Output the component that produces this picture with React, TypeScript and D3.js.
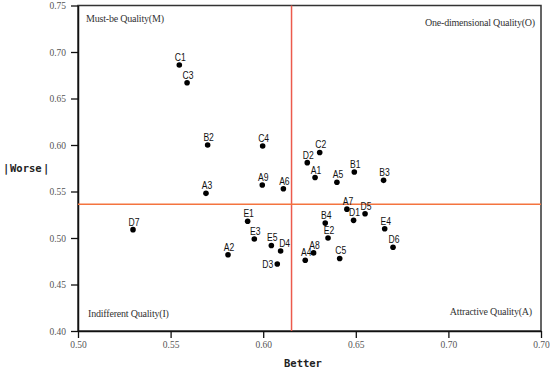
import React, { useRef, useEffect } from 'react';
import * as d3 from 'd3';

const items = ['C1', 'C3', 'B2', 'C4', 'A9', 'A6', 'A3', 'A1', 'A5', 'C2', 'D2', 'B1', 'B3',
  'E1', 'E3', 'E5', 'D4', 'A2', 'D3', 'B4', 'E2', 'A8', 'A4', 'C5', 'A7', 'D1', 'D5', 'E4', 'D6', 'D7'];
const better = [0.5547, 0.5589, 0.570, 0.5997, 0.5995, 0.6109, 0.5691, 0.628, 0.6398, 0.6305, 0.6238, 0.6492, 0.665,
  0.5916, 0.5952, 0.6044, 0.6094, 0.581, 0.6076, 0.6335, 0.635, 0.6272, 0.6227, 0.6413, 0.6452, 0.6488, 0.655, 0.6656, 0.6701, 0.5297];
const worse = [0.686, 0.667, 0.600, 0.599, 0.557, 0.553, 0.548, 0.565, 0.560, 0.592, 0.581, 0.571, 0.562,
  0.518, 0.499, 0.492, 0.486, 0.482, 0.472, 0.516, 0.500, 0.484, 0.476, 0.478, 0.531, 0.519, 0.526, 0.510, 0.490, 0.509];

const xTicks = [0.5, 0.55, 0.6, 0.65, 0.7, 0.75];
const xTickLabels = ['0.50', '0.55', '0.60', '0.65', '0.70', '0.70'];
const yTicks = [0.4, 0.45, 0.5, 0.55, 0.6, 0.65, 0.7, 0.75];
const yTickLabels = ['0.40', '0.45', '0.50', '0.55', '0.60', '0.65', '0.70', '0.75'];

const betterMean = 0.6153;
const worseMean = 0.5362;

const quadrants = ['Must-be Quality(M)', 'One-dimensional Quality(O)', 'Indifferent Quality(I)', 'Attractive Quality(A)'];

const W = 550;
const H = 372;

export default function App() {
  const svgRef = useRef<SVGSVGElement>(null);

  useEffect(() => {
    const svg = d3.select(svgRef.current);
    svg.selectAll('*').remove();

    const left = 78, right = 541, top = 5.5, bottom = 331;
    const x = d3.scaleLinear().domain([0.5, 0.75]).range([left, right]);
    const y = d3.scaleLinear().domain([0.4, 0.75]).range([bottom, top]);

    const serif = '"Liberation Serif", "DejaVu Serif", serif';
    const sans = '"Liberation Sans", Arial, sans-serif';
    const mono = '"DejaVu Sans Mono", "Liberation Mono", monospace';

    svg.append('rect').attr('width', W).attr('height', H).attr('fill', 'white');

    // frame (top and right)
    svg.append('rect')
      .attr('x', left).attr('y', top)
      .attr('width', right - left).attr('height', bottom - top)
      .attr('fill', 'none').attr('stroke', '#333').attr('stroke-width', 1.5);

    // axes
    const xAxis = svg.append('g')
      .attr('transform', `translate(0,${bottom})`)
      .call(d3.axisBottom(x).tickValues(xTicks).tickSize(7).tickSizeOuter(0)
        .tickFormat((d, i) => xTickLabels[i]));
    const yAxis = svg.append('g')
      .attr('transform', `translate(${left},0)`)
      .call(d3.axisLeft(y).tickValues(yTicks).tickSize(7).tickSizeOuter(0)
        .tickFormat((d, i) => yTickLabels[i]));

    [xAxis, yAxis].forEach(ax => {
      ax.select('.domain').attr('stroke', '#111').attr('stroke-width', 1.5);
      ax.selectAll('.tick line').attr('stroke', '#111').attr('stroke-width', 1.3);
      ax.selectAll('.tick text')
        .attr('font-family', serif)
        .attr('font-size', 9.5)
        .attr('fill', '#555');
    });
    xAxis.selectAll('.tick text').attr('y', 10);
    yAxis.selectAll('.tick text').attr('x', -12);

    // mean lines
    svg.append('line')
      .attr('x1', x(betterMean)).attr('x2', x(betterMean))
      .attr('y1', top).attr('y2', bottom)
      .attr('stroke', '#ec5a4c').attr('stroke-width', 1.5);
    svg.append('line')
      .attr('x1', left).attr('x2', right)
      .attr('y1', y(worseMean)).attr('y2', y(worseMean))
      .attr('stroke', '#f4743f').attr('stroke-width', 1.5);

    // quadrant names
    const qPos = [
      { x: left + 8, y: 22, anchor: 'start' },
      { x: right - 6, y: 26, anchor: 'end' },
      { x: left + 10, y: 317, anchor: 'start' },
      { x: right - 9, y: 315, anchor: 'end' },
    ];
    quadrants.forEach((q, i) => {
      svg.append('text')
        .attr('x', qPos[i].x).attr('y', qPos[i].y)
        .attr('text-anchor', qPos[i].anchor)
        .attr('font-family', serif)
        .attr('font-size', 10)
        .attr('letter-spacing', -0.2)
        .attr('fill', '#333')
        .text(q);
    });

    // points
    const pts = items.map((name, i) => ({ name, b: better[i], w: worse[i] }));
    const g = svg.append('g');
    g.selectAll('circle')
      .data(pts)
      .enter()
      .append('circle')
      .attr('cx', d => x(d.b))
      .attr('cy', d => y(d.w))
      .attr('r', 2.8)
      .attr('fill', '#000');

    // labels sit above the dot, D3 sits to its left, D4 nudged right
    g.selectAll('text')
      .data(pts)
      .enter()
      .append('text')
      .attr('transform', d => {
        let tx = x(d.b) + 1;
        let ty = y(d.w) - 4;
        if (d.name === 'D3') { tx = x(d.b) - 4; ty = y(d.w) + 4; }
        if (d.name === 'D4') tx = x(d.b) + 4;
        return `translate(${tx},${ty}) scale(0.78,1)`;
      })
      .attr('text-anchor', d => d.name === 'D3' ? 'end' : 'middle')
      .attr('font-family', sans)
      .attr('font-size', 11)
      .attr('fill', '#111')
      .text(d => d.name);

    // axis titles
    svg.append('text')
      .attr('x', 284).attr('y', 367)
      .attr('font-family', mono)
      .attr('font-weight', 'bold')
      .attr('font-size', 10.5)
      .attr('fill', '#222')
      .text('Better');

    const wt = svg.append('text')
      .attr('y', 172)
      .attr('font-family', mono)
      .attr('font-weight', 'bold')
      .attr('font-size', 10.5)
      .attr('fill', '#222');
    wt.append('tspan').attr('x', 3).text('|');
    wt.append('tspan').attr('x', 10).text('Worse');
    wt.append('tspan').attr('x', 43).text('|');
  }, []);

  return (
    <svg
      ref={svgRef}
      width={W}
      height={H}
      style={{ position: 'absolute', left: 0, top: 0 }}
    />
  );
}
